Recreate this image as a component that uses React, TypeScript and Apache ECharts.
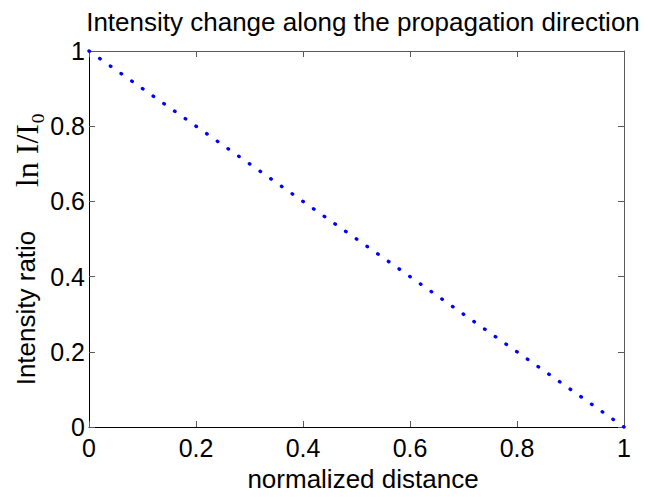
import React, { useEffect, useRef } from "react";
import * as echarts from "echarts";

const distance = [0, 1];
const ratio = [1, 0];
const xTicks = [0, 0.2, 0.4, 0.6, 0.8, 1];
const yTicks = [0, 0.2, 0.4, 0.6, 0.8, 1];
const titleText = "Intensity change along the propagation direction";
const xName = "normalized distance";
const yName = "Intensity ratio";
const yName2 = "ln I/I₀";

const FONT = "'Liberation Sans', Arial, Helvetica, sans-serif";

export default function App() {
  const ref = useRef<HTMLDivElement>(null);
  useEffect(() => {
    if (!ref.current) return;
    const chart = echarts.init(ref.current, undefined, { renderer: "svg" });
    const gl = 89, gr = 24, gt = 51, gb = 70;
    const W = 648, H = 497;
    const pw = W - gl - gr, ph = H - gt - gb;
    const len = Math.sqrt(pw * pw + ph * ph);
    const period = len / 50 - 0.01;
    const dot = 0.6;
    const label = { fontSize: 25, color: "#000", fontFamily: FONT };
    const grey = "#5a5a5a";
    const fmt = (v: number) => (xTicks.includes(v) ? String(v) : "");
    chart.setOption({
      animation: false,
      backgroundColor: "#fff",
      grid: { left: gl, right: gr, top: gt, bottom: gb, containLabel: false },
      xAxis: [
        {
          type: "value", min: 0, max: 1, interval: 0.2, position: "bottom",
          axisLine: { show: true, onZero: false, lineStyle: { color: "#000", width: 1 } },
          axisTick: { show: true, inside: true, length: 6, lineStyle: { color: grey } },
          axisLabel: { ...label, margin: 8, formatter: fmt },
          splitLine: { show: false },
        },
        {
          type: "value", min: 0, max: 1, interval: 0.2, position: "top",
          axisLine: { show: true, onZero: false, lineStyle: { color: grey, width: 1 } },
          axisTick: { show: true, inside: true, length: 6, lineStyle: { color: grey } },
          axisLabel: { show: false },
          splitLine: { show: false },
        },
      ],
      yAxis: [
        {
          type: "value", min: 0, max: 1, interval: 0.2, position: "left",
          axisLine: { show: true, onZero: false, lineStyle: { color: "#000", width: 1 } },
          axisTick: { show: true, inside: true, length: 6, lineStyle: { color: grey } },
          axisLabel: { ...label, margin: 4, formatter: (v: number) => (yTicks.includes(v) ? String(v) : "") },
          splitLine: { show: false },
        },
        {
          type: "value", min: 0, max: 1, interval: 0.2, position: "right",
          axisLine: { show: true, onZero: false, lineStyle: { color: grey, width: 1 } },
          axisTick: { show: true, inside: true, length: 6, lineStyle: { color: grey } },
          axisLabel: { show: false },
          splitLine: { show: false },
        },
      ],
      series: [
        {
          type: "line",
          xAxisIndex: 0,
          yAxisIndex: 0,
          data: distance.map((d, i) => [d, ratio[i]]),
          showSymbol: false,
          symbol: "none",
          clip: false,
          lineStyle: {
            color: "#0000ff",
            width: 3.4,
            type: [dot, period - dot],
            cap: "round",
          },
        },
      ],
      graphic: [
        {
          type: "text", x: 363, y: 22,
          style: { text: titleText, font: `26px ${FONT}`, fill: "#000", align: "center", verticalAlign: "middle" },
        },
        {
          type: "text", x: 363, y: 479,
          style: { text: xName, font: `26px ${FONT}`, fill: "#000", align: "center", verticalAlign: "middle" },
        },
        {
          type: "text", x: 26, y: 308, rotation: Math.PI / 2,
          style: { text: yName, font: `26px ${FONT}`, fill: "#000", align: "center", verticalAlign: "middle" },
        },
        {
          type: "text", x: 27, y: 150, rotation: Math.PI / 2,
          style: { text: yName2, font: `32px 'Liberation Serif', 'Times New Roman', serif`, fill: "#000", align: "center", verticalAlign: "middle" },
        },
      ],
    });
    return () => chart.dispose();
  }, []);
  return (
    <div
      ref={ref}
      style={{ position: "fixed", left: 0, top: 0, width: 648, height: 497, background: "#fff" }}
    />
  );
}
